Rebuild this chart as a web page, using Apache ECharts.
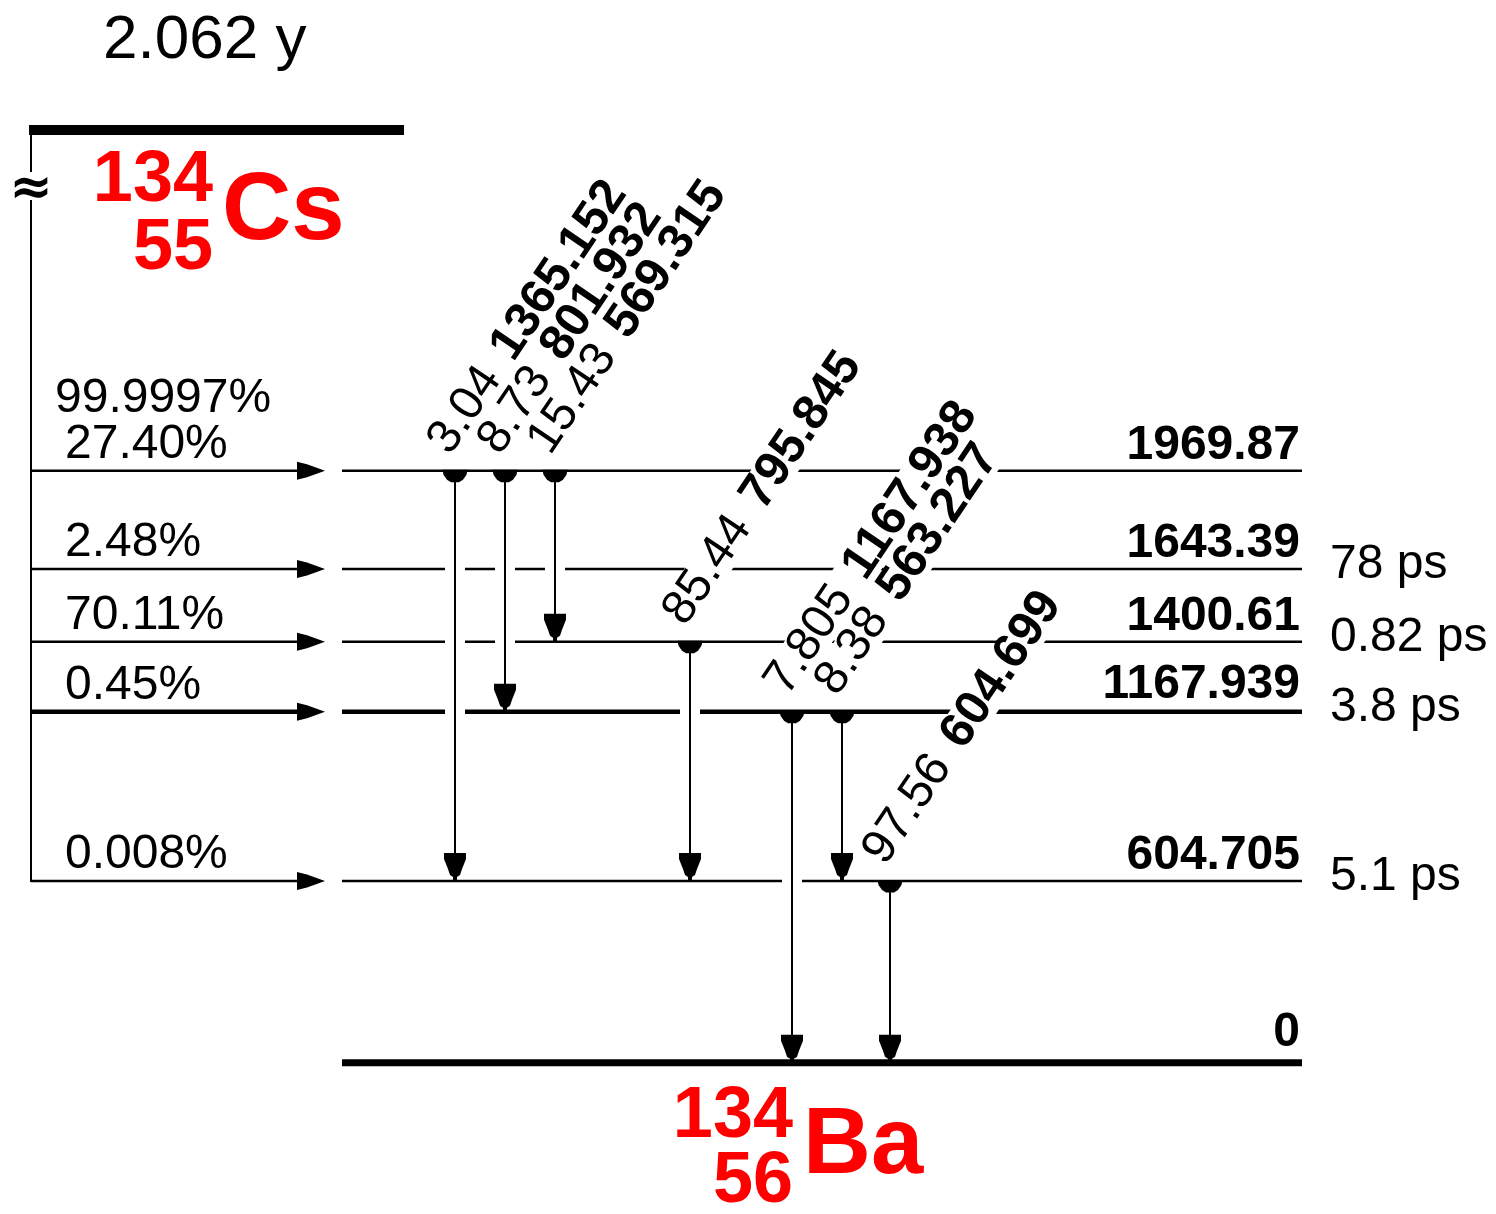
<!DOCTYPE html>
<html>
<head>
<meta charset="utf-8">
<script src="https://cdn.jsdelivr.net/npm/echarts@6/dist/echarts.min.js"></script>
<style>
  html, body { margin: 0; padding: 0; background: #fff; }
  #chart { width: 1496px; height: 1214px; }
</style>
</head>
<body>
<div id="chart"></div>
<script>
// 134Cs -> 134Ba beta-minus decay scheme

// Excited levels of 134Ba fed in the decay (keV)
const levelEnergies = [1969.87, 1643.39, 1400.61, 1167.939, 604.705, 0];
const halfLives = ['', '78 ps', '0.82 ps', '3.8 ps', '5.1 ps', ''];

// Beta branches feeding each level
const betaFeeding = ['27.40%', '2.48%', '70.11%', '0.45%', '0.008%', ''];
const betaTotal = '99.9997%';
const parentHalfLife = '2.062 y';

// Gamma transitions: initial level, final level, intensity (%), energy (keV)
const gammaFrom = [1969.87, 1969.87, 1969.87, 1400.61, 1167.939, 1167.939, 604.705];
const gammaTo = [604.705, 1167.939, 1400.61, 604.705, 0, 604.705, 0];
const gammaIntensity = ['3.04', '8.73', '15.43', '85.44', '7.805', '8.38', '97.56'];
const gammaEnergy = ['1365.152', '801.932', '569.315', '795.845', '1167.938', '563.227', '604.699'];

// ---- layout (horizontal diagram units, styling) ----
const FONT = '"Liberation Sans", Arial, Helvetica, sans-serif';
const X = {
  trunk: 31, parentEnd: 404, feedTip: 325, feedLabel: 65, totalLabel: 55,
  levelStart: 342, levelEnd: 1302, halfLife: 1330, title: 103,
  csRight: 213, csLeft: 222, baRight: 793, baLeft: 803
};
const gammaColumns = [455, 505, 555, 690, 792, 842, 890];
const PARENT_LEVEL = 3104;          // parent level sits above a broken energy axis
const levelWidth = [2.5, 2.5, 2.5, 4.5, 2.5, 7];
const LABEL_ANGLE = 56 * Math.PI / 180;
const RED = '#ff0000';

const startMarker = [[-12.5, 0], [12.5, 0], [11.5, 5], [8, 10], [4, 12.5], [-4, 12.5], [-8, 10], [-11.5, 5]];
const endArrow = [[-11, -28], [11, -28], [11, -22], [7, -12], [5, -6], [2, -4], [2, 0],
                  [-2, 0], [-2, -4], [-5, -6], [-7, -12], [-11, -22]];

function txt(x, y, text, font, fill, align) {
  return { type: 'text', x: x, y: y,
    style: { text: text, font: font, fill: fill || '#000', align: align || 'left', verticalAlign: 'middle' } };
}

function renderLevel(params, api) {
  const i = params.dataIndex;
  const E = api.value(0);
  const a = api.coord([X.levelStart, E]);
  const b = api.coord([X.levelEnd, E]);
  const w = levelWidth[i];
  const children = [
    { type: 'line', shape: { x1: a[0], y1: a[1], x2: b[0], y2: b[1] },
      style: { stroke: '#000', lineWidth: w } },
    txt(b[0] - 2, a[1] - (23 + w), String(levelEnergies[i]), 'bold 48px ' + FONT, '#000', 'right')
  ];
  if (halfLives[i]) {
    children.push(txt(api.coord([X.halfLife, E])[0], a[1] - 4, halfLives[i], '48px ' + FONT));
  }
  if (E === 0) {
    // daughter nuclide
    const ry = a[1];
    children.push(txt(api.coord([X.baRight, E])[0], ry + 54, '134', 'bold 72px ' + FONT, RED, 'right'));
    children.push(txt(api.coord([X.baRight, E])[0], ry + 119, '56', 'bold 72px ' + FONT, RED, 'right'));
    children.push(txt(api.coord([X.baLeft, E])[0], ry + 84, 'Ba', 'bold 94px ' + FONT, RED, 'left'));
  }
  return { type: 'group', children: children };
}

function renderParent(params, api) {
  const E = api.value(0);
  const a = api.coord([X.trunk - 2, E]);
  const b = api.coord([X.parentEnd, E]);
  const t = api.coord([X.trunk, E]);
  const lowest = api.coord([X.trunk, levelEnergies[4]]);
  const top1969 = api.coord([X.totalLabel, levelEnergies[0]]);
  const y = a[1];
  return { type: 'group', children: [
    { type: 'line', shape: { x1: t[0], y1: y, x2: t[0], y2: y + 42 }, style: { stroke: '#000', lineWidth: 2 } },
    { type: 'line', shape: { x1: t[0], y1: y + 70, x2: t[0], y2: lowest[1] + 1 }, style: { stroke: '#000', lineWidth: 2 } },
    { type: 'line', shape: { x1: a[0], y1: y, x2: b[0], y2: y }, style: { stroke: '#000', lineWidth: 10 } },
    txt(t[0], y + 60, '\u2248', 'bold 52px "DejaVu Sans", sans-serif', '#000', 'center'),
    txt(api.coord([X.title, E])[0], y - 89, parentHalfLife, '62px ' + FONT),
    txt(api.coord([X.csRight, E])[0], y + 51, '134', 'bold 72px ' + FONT, RED, 'right'),
    txt(api.coord([X.csRight, E])[0], y + 119, '55', 'bold 72px ' + FONT, RED, 'right'),
    txt(api.coord([X.csLeft, E])[0], y + 83, 'Cs', 'bold 96px ' + FONT, RED, 'left'),
    txt(top1969[0], top1969[1] - 72, betaTotal, '48px ' + FONT)
  ] };
}

function renderFeed(params, api) {
  const E = api.value(0);
  const i = api.value(1);
  const p = api.coord([X.trunk, E]);
  const tip = api.coord([X.feedTip, E])[0];
  const y = p[1];
  return { type: 'group', children: [
    { type: 'line', shape: { x1: p[0], y1: y, x2: tip - 20, y2: y },
      style: { stroke: '#000', lineWidth: levelWidth[i] } },
    { type: 'polygon', shape: { points: [[tip - 28, y - 9], [tip - 18, y - 6.5], [tip, y], [tip - 18, y + 6.5], [tip - 28, y + 9]] },
      style: { fill: '#000' } },
    txt(api.coord([X.feedLabel, E])[0], y - 26, betaFeeding[i], '48px ' + FONT)
  ] };
}

function renderGamma(params, api) {
  const i = params.dataIndex;
  const s = api.coord([gammaColumns[i], api.value(0)]);
  const e = api.coord([gammaColumns[i], api.value(1)]);
  const cx = s[0], y0 = s[1], y1 = e[1];
  return { type: 'group', children: [
    { type: 'line', shape: { x1: cx, y1: y0 + 10, x2: cx, y2: y1 - 10 }, style: { stroke: '#fff', lineWidth: 20 } },
    { type: 'line', shape: { x1: cx, y1: y0, x2: cx, y2: y1 - 4 }, style: { stroke: '#000', lineWidth: 2 } },
    { type: 'polygon', shape: { points: startMarker.map(function (p) { return [cx + p[0], y0 - 1 + p[1]]; }) },
      style: { fill: '#000' } },
    { type: 'polygon', shape: { points: endArrow.map(function (p) { return [cx + p[0], y1 + p[1]]; }) },
      style: { fill: '#000' } }
  ] };
}

function gammaLabel(knockout) {
  return function (params, api) {
    const i = params.dataIndex;
    const s = api.coord([gammaColumns[i], api.value(0)]);
    const fill = knockout ? 'rgba(255,255,255,0)' : '#000';
    return {
      type: 'text', x: s[0] - 16, y: s[1] - 22, rotation: LABEL_ANGLE,
      style: {
        text: '{i|' + gammaIntensity[i] + '}{s| }{e|' + gammaEnergy[i] + '}',
        align: 'left', verticalAlign: 'middle',
        font: '48px ' + FONT, fill: fill,
        backgroundColor: knockout ? '#fff' : null,
        padding: knockout ? [2, 4] : 0,
        rich: {
          i: { fontSize: 48, fontFamily: FONT, fontWeight: 'normal', fill: fill, lineHeight: 36 },
          s: { fontSize: 70, fontFamily: FONT, fill: fill, lineHeight: 36 },
          e: { fontSize: 49, fontFamily: FONT, fontWeight: 'bold', fill: fill, lineHeight: 36 }
        }
      }
    };
  };
}

const gammaData = gammaFrom.map(function (f, k) { return [f, gammaTo[k]]; });
const feedData = [];
betaFeeding.forEach(function (b, i) { if (b) feedData.push([levelEnergies[i], i]); });

const chart = echarts.init(document.getElementById('chart'), null, { renderer: 'canvas' });
chart.setOption({
  animation: false,
  backgroundColor: '#fff',
  grid: { left: 0, right: 0, top: 11, bottom: 1 },
  xAxis: { type: 'value', min: 0, max: 1496, show: false },
  yAxis: { type: 'value', min: -500, max: 3500, show: false },
  series: [
    { type: 'custom', silent: true, z: 1, renderItem: renderLevel,
      data: levelEnergies.map(function (E, i) { return [E, i]; }) },
    { type: 'custom', silent: true, z: 2, renderItem: gammaLabel(true), data: gammaData },
    { type: 'custom', silent: true, z: 3, renderItem: renderGamma, data: gammaData },
    { type: 'custom', silent: true, z: 3, renderItem: renderFeed, data: feedData },
    { type: 'custom', silent: true, z: 3, renderItem: renderParent, data: [[PARENT_LEVEL, 0]] },
    { type: 'custom', silent: true, z: 4, renderItem: gammaLabel(false), data: gammaData }
  ]
});
</script>
</body>
</html>
